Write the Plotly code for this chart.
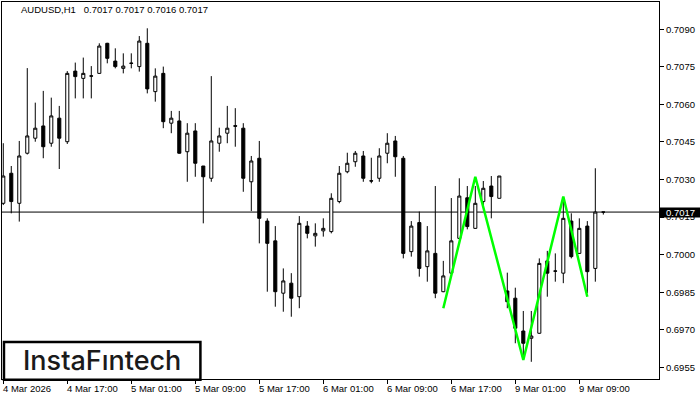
import pandas as pd
import plotly.graph_objects as go

# ---- data -------------------------------------------------------------
times = [t.strftime("%Y-%m-%d %H:%M") for t in
         list(pd.date_range("2026-03-04 09:00", "2026-03-06 23:00", freq="h")) +
         list(pd.date_range("2026-03-09 00:00", "2026-03-09 12:00", freq="h"))]

opens = [0.70205, 0.70325, 0.70205, 0.70405, 0.70465, 0.70514, 0.70445, 0.70545, 0.70451, 0.70733,
         0.70704, 0.70714, 0.70724, 0.70844, 0.70773, 0.70744, 0.70765, 0.70751, 0.70844, 0.70651,
         0.70724, 0.70525, 0.70534, 0.70411, 0.70494, 0.70354, 0.70305, 0.70445, 0.70485, 0.70515,
         0.70505, 0.70291, 0.70385, 0.70134, 0.70055, 0.69846, 0.69886, 0.69832, 0.70114, 0.70075,
         0.70095, 0.70092, 0.70212, 0.70331, 0.70371, 0.70394, 0.70295, 0.70305, 0.70405, 0.70454,
         0.70385, 0.70012, 0.70128, 0.69952, 0.70005, 0.69852, 0.69926, 0.70065, 0.70227, 0.70105,
         0.70212, 0.70274, 0.70225, 0.69855, 0.69826, 0.69695, 0.69666, 0.69686, 0.69975, 0.69935,
         0.69926, 0.70134, 0.70005, 0.70114, 0.69945, 0.70170]
highs = [0.70445, 0.70354, 0.70454, 0.70745, 0.70607, 0.70654, 0.70627, 0.70594, 0.70733, 0.70767,
         0.70787, 0.70753, 0.70844, 0.70846, 0.70824, 0.70804, 0.70804, 0.70873, 0.70904, 0.70744,
         0.70751, 0.70574, 0.70574, 0.70525, 0.70525, 0.70354, 0.70713, 0.70507, 0.70594, 0.70585,
         0.70525, 0.70394, 0.70454, 0.70145, 0.70114, 0.69945, 0.69926, 0.70154, 0.70134, 0.70125,
         0.70145, 0.70245, 0.70354, 0.70407, 0.70414, 0.70414, 0.70387, 0.70425, 0.70485, 0.70474,
         0.70394, 0.70134, 0.70172, 0.70114, 0.70274, 0.69975, 0.70226, 0.70305, 0.70274, 0.70274,
         0.70294, 0.70314, 0.70314, 0.69928, 0.69868, 0.69775, 0.69775, 0.69985, 0.70015, 0.70005,
         0.70214, 0.70165, 0.70145, 0.70134, 0.70345, 0.70170]
lows = [0.70198, 0.70165, 0.70132, 0.70400, 0.70451, 0.70385, 0.70431, 0.70342, 0.70442, 0.70624,
        0.70624, 0.70624, 0.70722, 0.70764, 0.70744, 0.70724, 0.70744, 0.70731, 0.70644, 0.70611,
        0.70505, 0.70485, 0.70403, 0.70291, 0.70311, 0.70125, 0.70291, 0.70411, 0.70445, 0.70431,
        0.70251, 0.70174, 0.70045, 0.69852, 0.69792, 0.69772, 0.69752, 0.69786, 0.70065, 0.70032,
        0.70072, 0.70085, 0.70205, 0.70325, 0.70351, 0.70291, 0.70285, 0.70291, 0.70365, 0.70311,
        0.69985, 0.69992, 0.69912, 0.69892, 0.69826, 0.69850, 0.69924, 0.70063, 0.70101, 0.70103,
        0.70198, 0.70145, 0.70225, 0.69786, 0.69646, 0.69595, 0.69572, 0.69684, 0.69832, 0.69892,
        0.69886, 0.69985, 0.70003, 0.69846, 0.69892, 0.70160]
closes = [0.70314, 0.70212, 0.70394, 0.70474, 0.70505, 0.70431, 0.70554, 0.70465, 0.70724, 0.70711,
          0.70724, 0.70713, 0.70833, 0.70784, 0.70751, 0.70753, 0.70764, 0.70853, 0.70662, 0.70713,
          0.70531, 0.70545, 0.70405, 0.70485, 0.70365, 0.70311, 0.70454, 0.70474, 0.70505, 0.70513,
          0.70305, 0.70374, 0.70145, 0.70045, 0.69852, 0.69895, 0.69826, 0.70125, 0.70085, 0.70085,
          0.70105, 0.70225, 0.70325, 0.70365, 0.70405, 0.70305, 0.70294, 0.70394, 0.70445, 0.70391,
          0.70005, 0.70114, 0.69945, 0.70015, 0.69846, 0.69915, 0.70055, 0.70234, 0.70112, 0.70205,
          0.70265, 0.70232, 0.70314, 0.69812, 0.69706, 0.69646, 0.69675, 0.69965, 0.69926, 0.69934,
          0.70145, 0.69992, 0.70105, 0.69932, 0.70170, 0.70170]

# double-bottom pattern (green zig-zag)
pattern_bars = [55, 59, 65, 70, 73]
pattern_prices = [0.69786, 0.70311, 0.69579, 0.70232, 0.69832]

price_now = 0.7017
y_ticks = [0.6955, 0.6970, 0.6985, 0.7000, 0.7015, 0.7030, 0.7045, 0.7060, 0.7075, 0.7090]
tick_bars = [0, 8, 16, 24, 32, 40, 48, 56, 64, 72]
tick_labels = ["4 Mar 2026", "4 Mar 17:00", "5 Mar 01:00", "5 Mar 09:00", "5 Mar 17:00",
               "6 Mar 01:00", "6 Mar 09:00", "6 Mar 17:00", "9 Mar 01:00", "9 Mar 09:00"]
title_text = "AUDUSD,H1\u00a0\u00a0 0.7017 0.7017 0.7016 0.7017"
logo_text = "InstaF\u0131ntech"

# ---- figure -------------------------------------------------------------
FONT = "Liberation Sans"
fig = go.Figure()

fig.add_trace(go.Candlestick(
    x=times, open=opens, high=highs, low=lows, close=closes,
    increasing=dict(fillcolor="white", line=dict(color="black", width=1)),
    decreasing=dict(fillcolor="black", line=dict(color="black", width=1)),
    whiskerwidth=0, showlegend=False, hoverinfo="skip",
))

fig.add_trace(go.Scatter(
    x=[times[i] for i in pattern_bars], y=pattern_prices, mode="lines",
    line=dict(color="#00ff00", width=2.5), showlegend=False, hoverinfo="skip",
))

# current price line
fig.add_shape(type="line", xref="paper", x0=0, x1=1, yref="y", y0=price_now, y1=price_now,
              line=dict(color="black", width=1), layer="below")
# price label on the axis (black box, white text)
fig.add_annotation(xref="paper", x=1, xanchor="left", xshift=0, yref="y", y=price_now,
                   yanchor="middle", text=f"{price_now:.4f}", showarrow=False,
                   width=41, height=9, align="center", borderpad=0, bgcolor="black",
                   font=dict(family=FONT, size=9.5, color="white"))

# title
fig.add_annotation(xref="paper", x=0.0259, xanchor="left", yref="paper", y=0.979,
                   yanchor="middle", text=title_text, showarrow=False,
                   font=dict(family=FONT, size=9.5, color="black"))

# x tick labels (left aligned at tick, MT4 style)
for b, lab in zip(tick_bars, tick_labels):
    fig.add_annotation(xref="x", x=times[b], xanchor="left", xshift=-2, yref="paper", y=0,
                       yanchor="top", yshift=-2, text=lab, showarrow=False,
                       font=dict(family=FONT, size=9.5, color="black"))

# logo
fig.add_shape(type="rect", xref="paper", x0=0.003, x1=0.302, yref="paper", y0=-0.002, y1=0.098,
              fillcolor="white", line=dict(color="black", width=2.5), layer="above")
fig.add_annotation(xref="paper", x=0.152, yref="paper", y=0.050, xanchor="center",
                   yanchor="middle", text=logo_text, showarrow=False,
                   font=dict(family="Inter", size=27, color="#1a1a1a", weight=500))

fig.update_layout(
    width=700, height=400, autosize=False,
    margin=dict(l=2, r=41, t=2, b=21, pad=0),
    paper_bgcolor="white", plot_bgcolor="white",
    boxgap=0.45,
    xaxis=dict(type="category", categoryorder="array", categoryarray=times,
               range=[-0.16, 81.96], rangeslider=dict(visible=False),
               showgrid=False, zeroline=False, showline=True, mirror=True,
               linecolor="black", linewidth=1,
               tickvals=[times[b] for b in tick_bars], showticklabels=False,
               ticks="outside", ticklen=4, tickcolor="black", tickwidth=1),
    yaxis=dict(side="right", range=[0.695033, 0.710090], showgrid=False, zeroline=False,
               showline=True, mirror=True, linecolor="black", linewidth=1,
               tickvals=y_ticks, tickformat=".4f", ticks="outside", ticklen=4,
               tickcolor="black", tickwidth=1,
               tickfont=dict(family=FONT, size=9.5, color="black")),
    hovermode=False,
)

fig.write_html("out.html", config={"displayModeBar": False},
               post_script="document.body.style.margin='0';document.body.style.padding='0';")
